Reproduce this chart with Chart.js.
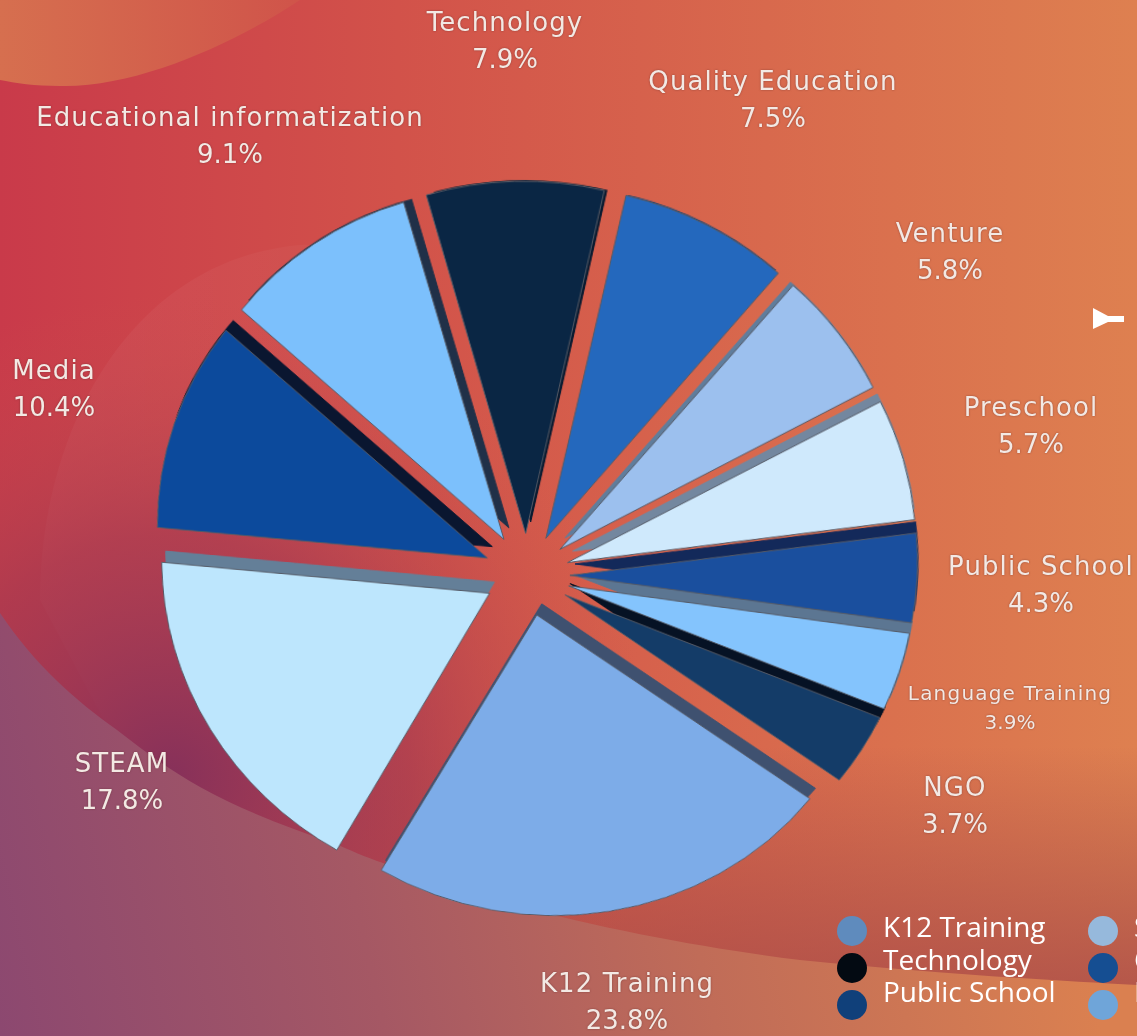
<!DOCTYPE html>
<html>
<head>
<meta charset="utf-8">
<title>Pie</title>
<script src="https://cdn.jsdelivr.net/npm/chart.js@4"></script>
<style>
	html, body { margin: 0; padding: 0; width: 1137px; height: 1036px; overflow: hidden; background: #d4564b; }
	#bg { position: absolute; left: 0; top: 0; }
	#stage { position: absolute; left: -23px; top: 25px; width: 1100px; height: 1100px; transform-origin: 550px 550px; transform: perspective(1540px) rotateX(-17deg) rotateY(-6deg); }
	.label { position: absolute; transform: translateX(-50%); text-align: center; white-space: nowrap; color: #f3e9e4; font-family: "DejaVu Sans", sans-serif; font-size: 26px; line-height: 37px; letter-spacing: 1.1px; text-shadow: 0 0 2px rgba(90, 40, 40, 0.6); }
	.label span { letter-spacing: 0; }
	.label.small { font-size: 20px; line-height: 29px; letter-spacing: 1.2px; }
	.legend-item { position: absolute; color: #fff; font-family: "Open Sans", sans-serif; font-size: 28px; line-height: 32px; white-space: nowrap; }
	.legend-dot { position: absolute; width: 30px; height: 30px; border-radius: 50%; }
</style>
</head>
<body>
<svg id="bg" width="1137" height="1036" viewBox="0 0 1137 1036">
	<defs>
		<linearGradient id="base" x1="0" y1="0" x2="1" y2="0">
			<stop offset="0" stop-color="#c93a4a"/>
			<stop offset="0.35" stop-color="#d2524a"/>
			<stop offset="1" stop-color="#de8050"/>
		</linearGradient>
		<radialGradient id="wine" gradientUnits="userSpaceOnUse" cx="170" cy="775" r="480">
			<stop offset="0" stop-color="#85305a" stop-opacity="0.98"/>
			<stop offset="0.5" stop-color="#a63a50" stop-opacity="0.7"/>
			<stop offset="1" stop-color="#c9504b" stop-opacity="0"/>
		</radialGradient>
		<linearGradient id="edge" x1="0" y1="0" x2="0" y2="1">
			<stop offset="0.72" stop-color="#a04848" stop-opacity="0"/>
			<stop offset="0.95" stop-color="#a84a48" stop-opacity="0.75"/>
		</linearGradient>
		<linearGradient id="low" gradientUnits="userSpaceOnUse" x1="0" y1="1036" x2="1050" y2="800">
			<stop offset="0" stop-color="#8c4870"/>
			<stop offset="0.35" stop-color="#a55864"/>
			<stop offset="0.65" stop-color="#c06c58"/>
			<stop offset="1" stop-color="#da8050"/>
		</linearGradient>
		<linearGradient id="corner" x1="0" y1="0" x2="1" y2="0">
			<stop offset="0" stop-color="#d66f4f"/>
			<stop offset="1" stop-color="#d0544a"/>
		</linearGradient>
		<linearGradient id="soft" gradientUnits="userSpaceOnUse" x1="40" y1="0" x2="450" y2="0">
			<stop offset="0" stop-color="#ffffff" stop-opacity="0.05"/>
			<stop offset="0.6" stop-color="#ffffff" stop-opacity="0.03"/>
			<stop offset="1" stop-color="#ffffff" stop-opacity="0"/>
		</linearGradient>
	</defs>
	<rect width="1137" height="1036" fill="url(#base)"/>
	<rect width="1137" height="1036" fill="url(#edge)"/>
	<path d="M40,600 C40,430 130,260 300,245 C400,238 450,300 450,400 L450,900 L200,900 Z" fill="url(#soft)"/>
	<rect width="1137" height="1036" fill="url(#wine)"/>
	<path d="M0,613 C35,665 75,700 117,730 C145,752 170,770 200,787 C245,812 290,828 333,843 C350,850 365,857 383,863 C520,915 680,945 800,960 C920,972 1040,980 1137,985 L1137,1036 L0,1036 Z" fill="url(#low)"/>
	<path d="M0,0 L300,0 C240,40 140,88 60,86 C35,86 15,83 0,80 Z" fill="url(#corner)"/>
	<path d="M1093,308 L1108,316 L1124,316 L1124,322 L1108,322 L1093,329 Z" fill="#ffffff"/>
</svg>
<div id="stage"><canvas id="pie" width="1100" height="1100"></canvas></div>
<div id="overlay"></div>
<script>
const categories = ['Technology', 'Quality Education', 'Venture', 'Preschool', 'Public School', 'Language Training', 'NGO', 'K12 Training', 'STEAM', 'Media', 'Educational informatization'];
const shares = [7.9, 7.5, 5.8, 5.7, 4.3, 3.9, 3.7, 23.8, 17.8, 10.4, 9.1];
const faceColors = ['#0a2644', '#2468bd', '#9cc0ee', '#cfe9fc', '#1a4f9e', '#84c4fd', '#143c68', '#7dace8', '#bde6fd', '#0c4a9c', '#7cc0fc'];
const wallColors = ['#081a30', '#1a3f70', '#5f7d9c', '#73879f', '#13295a', '#5c7692', '#061224', '#3f5170', '#647f98', '#0a1630', '#203048'];

const legendNames = ['K12 Training', 'STEAM', 'Technology', 'Quality Education', 'Public School', 'Language Training'];
const legendColors = ['#5f8bbd', '#96b9dc', '#030a12', '#154e92', '#10407a', '#6fa5d9'];

// label centre x / top y, same order as categories
const labelX = [505, 773, 950, 1031, 1041, 1010, 955, 627, 122, 54, 230];
const labelY = [4, 63, 215, 389, 548, 679, 769, 965, 745, 352, 99];

const GAP = 43;
const WALL_X = 5;
const WALL_Y = -12;

const sideWalls = {
	id: 'sideWalls',
	beforeDatasetDraw(chart, args) {
		const ctx = chart.ctx;
		const arcs = args.meta.data;

		const moved = (arc, fn) => {
			const mid = (arc.startAngle + arc.endAngle) / 2;
			ctx.save();
			ctx.translate(Math.cos(mid) * GAP, Math.sin(mid) * GAP);
			fn();
			ctx.restore();
		};

		arcs.forEach((arc, i) => {
			moved(arc, () => {
				ctx.beginPath();
				ctx.arc(arc.x, arc.y, arc.outerRadius + 1, 0, Math.PI * 2);
				ctx.clip();
				ctx.translate(WALL_X, WALL_Y);
				const face = arc.options;
				arc.options = Object.assign({}, face, { backgroundColor: wallColors[i], borderColor: wallColors[i] });
				arc.draw(ctx);
				arc.options = face;
			});
		});
		arcs.forEach(arc => moved(arc, () => arc.draw(ctx)));
		return false;
	}
};

new Chart(document.getElementById('pie'), {
	type: 'pie',
	data: {
		labels: categories,
		datasets: [{
			data: shares,
			backgroundColor: faceColors,
			borderColor: '#555a66',
			borderWidth: 1
		}]
	},
	options: {
		responsive: false,
		animation: false,
		rotation: -16,
		radius: 339,
		plugins: {
			legend: { display: false },
			tooltip: { enabled: false }
		}
	},
	plugins: [sideWalls]
});

const overlay = document.getElementById('overlay');

categories.forEach((name, i) => {
	const el = document.createElement('div');
	el.className = name === 'Language Training' ? 'label small' : 'label';
	el.style.left = labelX[i] + 'px';
	el.style.top = labelY[i] + 'px';
	el.innerHTML = name + '<br><span>' + shares[i] + '%</span>';
	overlay.appendChild(el);
});

legendNames.forEach((name, i) => {
	const col = i % 2;
	const row = Math.floor(i / 2);
	const dot = document.createElement('div');
	dot.className = 'legend-dot';
	dot.style.left = (837 + col * 251) + 'px';
	dot.style.top = (916 + row * 37) + 'px';
	dot.style.background = legendColors[i];
	overlay.appendChild(dot);

	const text = document.createElement('div');
	text.className = 'legend-item';
	text.style.left = (883 + col * 251) + 'px';
	text.style.top = (910 + row * 32.5) + 'px';
	text.textContent = name;
	overlay.appendChild(text);
});
</script>
</body>
</html>
